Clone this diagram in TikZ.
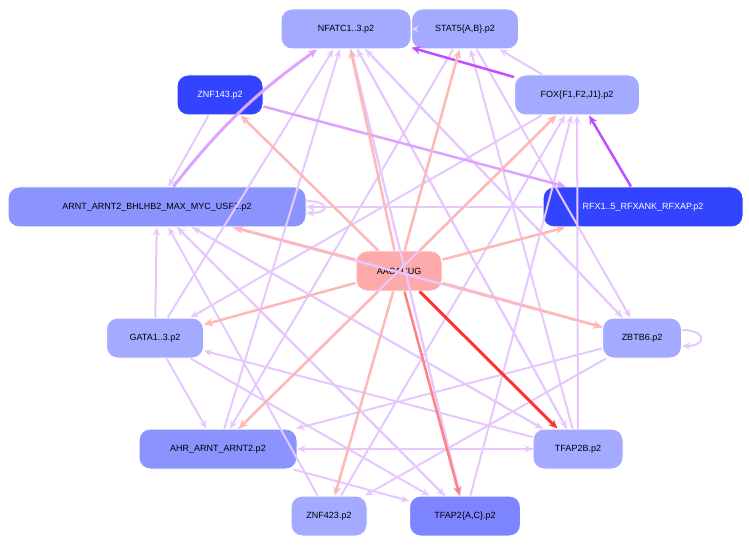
\documentclass[tikz,border=0pt]{standalone}
\usepackage{fontspec}
\setmainfont{Liberation Sans}
\usetikzlibrary{arrows.meta,calc}
\definecolor{lb}{HTML}{A3AAFF}
\definecolor{mb}{HTML}{8B93FF}
\definecolor{db}{HTML}{3344FF}
\definecolor{pk}{HTML}{FFAAAA}
\definecolor{le}{HTML}{E6C8FF}
\definecolor{pe}{HTML}{FFB8B8}
\definecolor{pu}{HTML}{C44DFF}
\begin{document}
\begin{tikzpicture}[x=1pt,y=-1pt,
 n/.style={draw=white,line width=1pt,rounded corners=11pt,minimum height=40pt,font=\fontsize{9}{10}\selectfont,inner xsep=8pt,fill=lb},
 e/.style={draw=le,line width=2pt,-{Stealth[length=8pt,width=7pt]}},
 p/.style={draw=pe,line width=2.5pt,-{Stealth[length=9pt,width=8pt]}}]
\useasboundingbox (0,0) rectangle (749,545);
\node[n,minimum width=130pt] (nf) at (346,29) {NFATC1..3.p2};
\node[n,minimum width=107pt] (st) at (465,29) {STAT5\{A,B\}.p2};
\node[n,fill=db,text=white,minimum width=86pt] (z143) at (220,95) {ZNF143.p2};
\node[n,minimum width=125pt] (fox) at (577,95) {FOX\{F1,F2,J1\}.p2};
\node[n,fill=mb,minimum width=298pt] (ar) at (157,207) {ARNT\_ARNT2\_BHLHB2\_MAX\_MYC\_USF1.p2};
\node[n,fill=db,text=white,minimum width=200pt] (rfx) at (643,207) {RFX1..5\_RFXANK\_RFXAP.p2};
\node[n,fill=pk,minimum width=86pt] (aa) at (399,271) {AACACUG};
\node[n,minimum width=97pt] (ga) at (155,338) {GATA1..3.p2};
\node[n,minimum width=79pt] (zb) at (642,338) {ZBTB6.p2};
\node[n,fill=mb,minimum width=158pt] (ahr) at (218,449) {AHR\_ARNT\_ARNT2.p2};
\node[n,minimum width=90pt] (tb) at (578,449) {TFAP2B.p2};
\node[n,minimum width=76pt] (z423) at (329,516) {ZNF423.p2};
\node[n,fill=mb!90!blue,minimum width=111pt] (tac) at (465,516) {TFAP2\{A,C\}.p2};
\coordinate (zb1) at ($(zb.east)+(0,-8)$);
\coordinate (zb2) at ($(zb.east)+(0,8)$);
\coordinate (ar1) at ($(ar.east)+(0,-6)$);
\coordinate (ar2) at ($(ar.east)+(0,6)$);
\begin{scope}[on background layer/.style={}]
\foreach \a/\b in {ga/ar,ga/ahr,ga/tac,ga/nf,zb/nf,zb/ar,zb/ahr,tb/nf,tb/ar,tb/ahr,tb/fox,tb/st,tac/nf,tac/ar,tac/fox,ahr/nf,ahr/fox,ahr/tac,z423/fox,z423/ar,ar/tac,ar/zb,rfx/ar,nf/st,nf/zb,nf/tb,st/zb,fox/st,z143/ar,fox/ga,ahr/tb,tb/ga,ar/tb,zb/z423,st/ahr,nf/tac}
  \draw[e] (\a) -- (\b);
\draw[e] (zb1) to[out=0,in=0,looseness=4] (zb2);
\draw[e] (ar1) to[out=0,in=0,looseness=5] (ar2);
\draw[draw=le!70!pu,line width=3pt,-{Stealth[length=9pt,width=8pt]}] (ar) to[bend left=8] (nf);
\draw[draw=le!70!pu,line width=2.5pt,-{Stealth[length=9pt,width=8pt]}] (z143) -- (rfx);
\draw[draw=pu,line width=2.5pt,-{Stealth[length=9pt,width=8pt]}] (fox) -- (nf);
\draw[draw=pu,line width=2.5pt,-{Stealth[length=9pt,width=8pt]}] (rfx) -- (fox);
\foreach \b in {ar,z143,nf,st,fox,rfx,zb,z423,ahr,ga}
  \draw[p] (aa) -- (\b);
\draw[p,draw=pe!70!red] (aa) -- (tac);
\draw[p,draw=red!80,line width=3pt] (aa) -- (tb);
\end{scope}
\end{tikzpicture}
\end{document}
